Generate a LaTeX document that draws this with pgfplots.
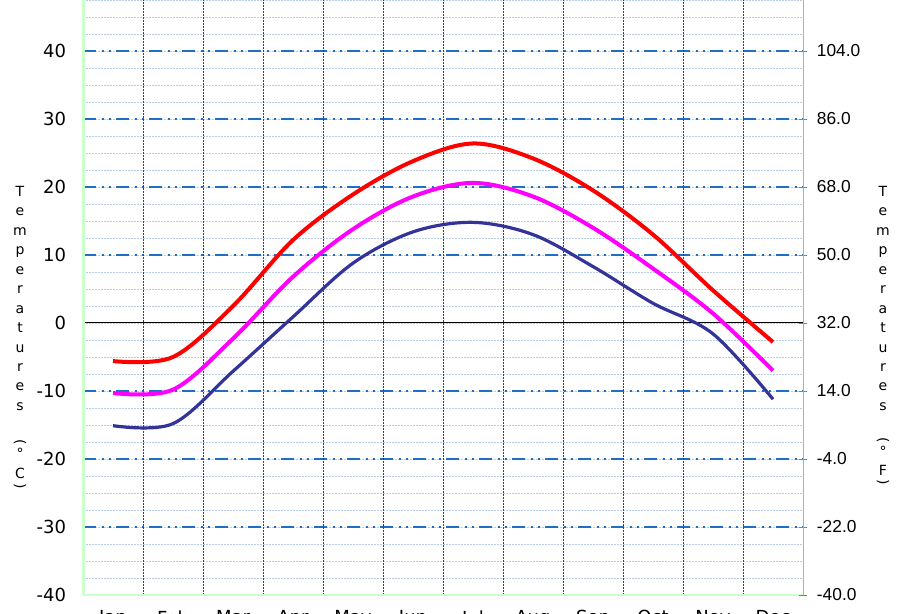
\documentclass[border=0pt]{standalone}
\usepackage{fontspec}
\usepackage{pgfplots}
\pgfplotsset{compat=1.18}
\usepackage{graphicx}
\setmainfont{DejaVu Sans}
\newfontfamily\arialfont{Liberation Sans}
\definecolor{gridblue}{HTML}{1F6FC5}
\definecolor{minorgrid}{HTML}{B8CCE4}
\definecolor{lgreen}{HTML}{CCFFCC}
\definecolor{rgreen}{HTML}{88C888}
\definecolor{tmin}{HTML}{333399}
\definecolor{tmean}{HTML}{FF00FF}
\definecolor{tmax}{HTML}{FF0000}
\begin{document}
\begin{tikzpicture}
\clip (0,0) rectangle (678.75pt,459.75pt);
\begin{axis}[
  at={(62.25pt,13.5pt)}, anchor=south west,
  scale only axis, width=540pt, height=446.25pt,
  xmin=0, xmax=12, ymin=-40, ymax=47.5,
  axis line style={draw=none},
  xtick={0.5,1.5,...,11.5},
  xticklabels={Jan,Feb,Mar,Apr,May,Jun,Jul,Aug,Sep,Oct,Nov,Dec},
  xticklabel style={font=\fontsize{13.5}{16}\selectfont, inner sep=0pt, anchor=north, yshift=-11.5pt},
  major x tick style={draw=none},
  extra x ticks={1,2,...,11}, extra x tick labels={},
  extra x tick style={grid=major, major grid style={black!75, line width=0.75pt, dash pattern=on 1.5pt off 0.75pt}, major tick length=0pt},
  ytick={-40,-30,-20,-10,10,20,30,40},
  yticklabels={-40,-30,-20,-10,10,20,30,40},
  extra y ticks={0}, extra y tick labels={0},
  extra y tick style={grid=major, major grid style={black, solid, line width=0.75pt}},
  yticklabel style={font=\fontsize{13.5}{16}\selectfont, inner sep=0pt, anchor=east, xshift=-12.5pt},
  major tick length=0pt, minor tick length=0pt,
  minor ytick={-37.5,-35,...,47.5},
  ymajorgrids, yminorgrids,
  major grid style={gridblue, line width=1.2pt, dash pattern=on 9.75pt off 4.5pt on 1.5pt off 3.75pt on 1.5pt off 3.75pt},
  minor grid style={minorgrid, line width=0.6pt, dash pattern=on 1.5pt off 0.75pt},
  clip=false,
]
\addplot[tmin, line width=2.4pt, smooth, tension=0.55] coordinates {
 (0.5,-15.1) (1.5,-14.8) (2.5,-7.1) (3.5,0.9) (4.5,8.8) (5.5,13.4)
 (6.5,14.8) (7.5,13.0) (8.5,8.3) (9.5,2.9) (10.5,-1.6) (11.5,-11.2)};
\addplot[tmean, line width=3pt, smooth, tension=0.55] coordinates {
 (0.5,-10.3) (1.5,-9.8) (2.5,-2.3) (3.5,6.8) (4.5,13.8) (5.5,18.6)
 (6.5,20.6) (7.5,18.6) (8.5,14.0) (9.5,8.0) (10.5,1.4) (11.5,-7.0)};
\addplot[tmax, line width=3pt, smooth, tension=0.55] coordinates {
 (0.5,-5.6) (1.5,-5.0) (2.5,2.5) (3.5,12.2) (4.5,18.9) (5.5,23.8)
 (6.5,26.4) (7.5,24.2) (8.5,19.5) (9.5,13.0) (10.5,4.8) (11.5,-2.8)};
\draw[lgreen, line width=2.25pt] (rel axis cs:0,0) -- (rel axis cs:0,1);
\draw[lgreen, line width=1.5pt] (rel axis cs:0,0) -- (rel axis cs:1,0);
\end{axis}
\begin{axis}[
  at={(62.25pt,13.5pt)}, anchor=south west,
  scale only axis, width=540pt, height=446.25pt,
  xmin=0, xmax=12, ymin=-40, ymax=117.5,
  axis x line=none, axis y line*=right,
  y axis line style={rgreen, line width=0.75pt, -},
  ytick={-40,-22,-4,14,32,50,68,86,104},
  yticklabels={-40.0,-22.0,-4.0,14.0,32.0,50.0,68.0,86.0,104.0},
  yticklabel style={font=\arialfont\fontsize{13}{16}\selectfont, inner sep=0pt, anchor=west, xshift=7pt},
  tick align=center, major tick length=6.5pt,
  major tick style={gray, line width=0.6pt},
]
\end{axis}
\foreach \c [count=\i from 0] in {T,e,m,p,e,r,a,t,u,r,e,s}{
  \node[font=\fontsize{10.5}{12}\selectfont, anchor=base, inner sep=0pt] at (15pt, {(613-196.5-19.45*\i)*0.75pt}) {\c};
  \node[font=\fontsize{10.5}{12}\selectfont, anchor=base, inner sep=0pt] at (662.25pt, {(613-196.5-19.45*\i)*0.75pt}) {\c};
}
\node[font=\fontsize{10.5}{12}\selectfont, inner sep=0pt] at (15pt, {(613-442)*0.75pt}) {\rotatebox{-90}{(}};
\node[font=\fontsize{10.5}{12}\selectfont, inner sep=0pt] at (15pt, {(613-453)*0.75pt}) {°};
\node[font=\fontsize{10.5}{12}\selectfont, inner sep=0pt] at (15pt, {(613-473)*0.75pt}) {C};
\node[font=\fontsize{10.5}{12}\selectfont, inner sep=0pt] at (15pt, {(613-486)*0.75pt}) {\rotatebox{-90}{)}};
\node[font=\fontsize{10.5}{12}\selectfont, inner sep=0pt] at (662.25pt, {(613-440)*0.75pt}) {\rotatebox{-90}{(}};
\node[font=\fontsize{10.5}{12}\selectfont, inner sep=0pt] at (662.25pt, {(613-451)*0.75pt}) {°};
\node[font=\fontsize{10.5}{12}\selectfont, inner sep=0pt] at (662.25pt, {(613-470)*0.75pt}) {F};
\node[font=\fontsize{10.5}{12}\selectfont, inner sep=0pt] at (662.25pt, {(613-482)*0.75pt}) {\rotatebox{-90}{)}};
\end{tikzpicture}
\end{document}
